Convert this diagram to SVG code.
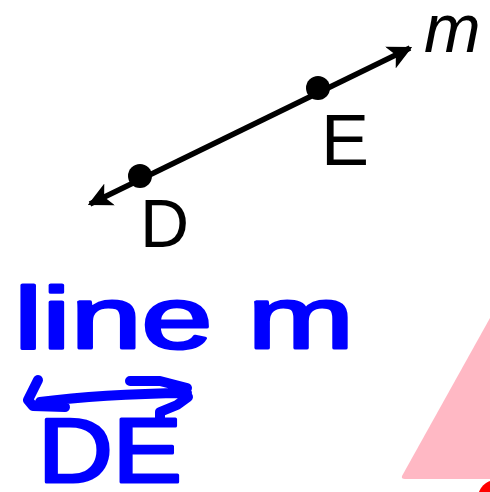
<svg xmlns="http://www.w3.org/2000/svg" width="490" height="492" viewBox="0 0 490 492">
  <style>
    .lbl { font-family: "Liberation Sans", Arial, sans-serif; fill: #000; }
    .ink { font-family: "Liberation Sans", Arial, sans-serif; fill: #0000ff; stroke: #0000ff; stroke-linejoin: round; }
    .inkline { fill: none; stroke: #0000ff; stroke-width: 10; stroke-linecap: round; stroke-linejoin: round; }
  </style>
  <defs>
    <marker id="ah" viewBox="0 0 10 10" refX="9" refY="5" markerWidth="4.4" markerHeight="4.4" orient="auto-start-reverse" markerUnits="strokeWidth">
      <path d="M0,0 L10,5 L0,10 L2.5,5 Z" fill="#000"/>
    </marker>
  </defs>
  <rect width="490" height="492" fill="#fff"/>

  <g id="connectors">
    <line x1="90" y1="204" x2="410" y2="48" stroke="#000" stroke-width="5.5" marker-start="url(#ah)" marker-end="url(#ah)"/>
  </g>

  <g id="point-D">
    <circle cx="140" cy="176" r="12" fill="#000"/>
    <text class="lbl" x="140" y="247" font-size="68">D</text>
  </g>
  <g id="point-E">
    <circle cx="318" cy="88" r="12" fill="#000"/>
    <text class="lbl" x="321" y="165" font-size="72">E</text>
  </g>
  <g id="label-m">
    <text class="lbl" x="424" y="52" font-size="68" font-style="italic">m</text>
  </g>

  <g id="handwriting">
    <text class="ink" x="14" y="348" font-size="88" stroke-width="3" textLength="340" lengthAdjust="spacingAndGlyphs">line m</text>
    <path class="inkline" d="M38,380 L28,400 L33,406 L65,407 M40,402 Q100,394 187,393 M130,381 L160,381 L187,388 M188,397 L177,405 L160,412 L160,418"/>
    <text class="ink" x="38" y="482" font-size="90" stroke-width="3" textLength="144" lengthAdjust="spacingAndGlyphs">DE</text>
  </g>

  <g id="shapes">
    <path d="M490,318 L402,476 Q401,479 405,479 L490,479 Z" fill="#ffb8c4"/>
    <circle cx="496" cy="498" r="18" fill="#ff0000"/>
  </g>
</svg>
